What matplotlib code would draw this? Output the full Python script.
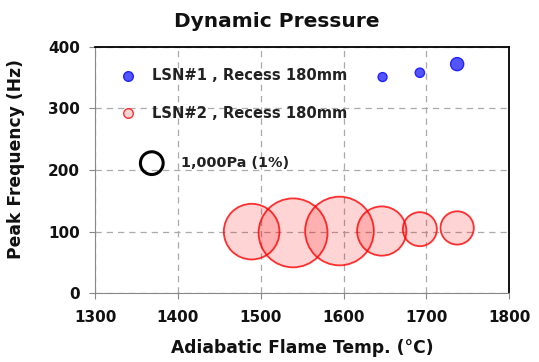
import matplotlib.pyplot as plt

plt.rcParams['font.family'] = ['DejaVu Sans']
plt.rcParams['font.weight'] = 'bold'

# LSN#1 , Recess 180mm
lsn1_temp = [1647, 1692, 1737]
lsn1_freq = [351, 358, 372]
lsn1_pa = [130, 140, 280]

# LSN#2 , Recess 180mm
lsn2_temp = [1489, 1539, 1595, 1646, 1692, 1737]
lsn2_freq = [100, 98, 101, 101, 104, 106]
lsn2_pa = [5085, 7800, 7740, 3980, 1900, 1820]

ref_pa = 1000
ref_s = 316.0  # marker area (pt^2) for 1,000 Pa


def sizes(vals):
    return [v / ref_pa * ref_s for v in vals]


fig = plt.figure(figsize=(5.39, 3.62), dpi=100)
ax = fig.add_axes([0.1763, 0.19, 0.7687, 0.6805])

ax.scatter(lsn2_temp, lsn2_freq, s=sizes(lsn2_pa), facecolor=(1, 0, 0, 0.17),
           edgecolor=(1, 0, 0, 0.8), linewidth=1.3, zorder=3)
ax.scatter(lsn1_temp, lsn1_freq, s=sizes(lsn1_pa), facecolor='#5555ff',
           edgecolor='#2222ff', linewidth=1.0, zorder=4)

ax.set_xlim(1300, 1800)
ax.set_ylim(0, 400)
ax.set_xticks([1300, 1400, 1500, 1600, 1700, 1800])
ax.set_yticks([0, 100, 200, 300, 400])
ax.grid(True, color='#aaaaaa', linestyle=(0, (5, 4)), linewidth=0.9)
ax.set_axisbelow(True)

for side in ('left', 'bottom'):
    ax.spines[side].set_color('#888888')
for side in ('top', 'right'):
    ax.spines[side].set_color('black')
    ax.spines[side].set_linewidth(1.3)
ax.tick_params(axis='both', colors='#888888', labelcolor='#111111', labelsize=11,
               length=4, width=0.8)
ax.tick_params(axis='x', pad=8)
ax.tick_params(axis='y', pad=7)
for lbl in ax.get_xticklabels() + ax.get_yticklabels():
    lbl.set_fontweight('bold')

ax.set_xlabel('Adiabatic Flame Temp. (\u00b0C)', fontsize=12.3, fontweight='bold',
              labelpad=10, color='#111111')
ax.set_ylabel('Peak Frequency (Hz)', fontsize=12.3, fontweight='bold', color='#111111')
ax.yaxis.set_label_coords(-0.17, 0.545)
fig.suptitle('Dynamic Pressure', x=0.514, y=0.968, fontsize=14.5, fontweight='bold',
             color='#111111')

# legend drawn by hand
ax.scatter([0.079], [0.882], s=48, transform=ax.transAxes, facecolor='#5555ff',
           edgecolor='#2222ff', linewidth=1.0, clip_on=False, zorder=5)
ax.text(0.138, 0.882, 'LSN#1 , Recess 180mm', transform=ax.transAxes,
        fontsize=10.6, fontweight='bold', va='center', color='#222222')
ax.scatter([0.079], [0.730], s=48, transform=ax.transAxes, facecolor=(1, 0, 0, 0.17),
           edgecolor=(1, 0, 0, 0.8), linewidth=1.0, clip_on=False, zorder=5)
ax.text(0.138, 0.730, 'LSN#2 , Recess 180mm', transform=ax.transAxes,
        fontsize=10.6, fontweight='bold', va='center', color='#222222')
ax.scatter([0.137], [0.528], s=ref_s * 0.85, transform=ax.transAxes, facecolor='none',
           edgecolor='black', linewidth=2.2, zorder=5)
ax.text(0.207, 0.530, '1,000Pa (1%)', transform=ax.transAxes,
        fontsize=10.4, fontweight='bold', va='center', color='#222222')

fig.savefig('out.png', dpi=100)
